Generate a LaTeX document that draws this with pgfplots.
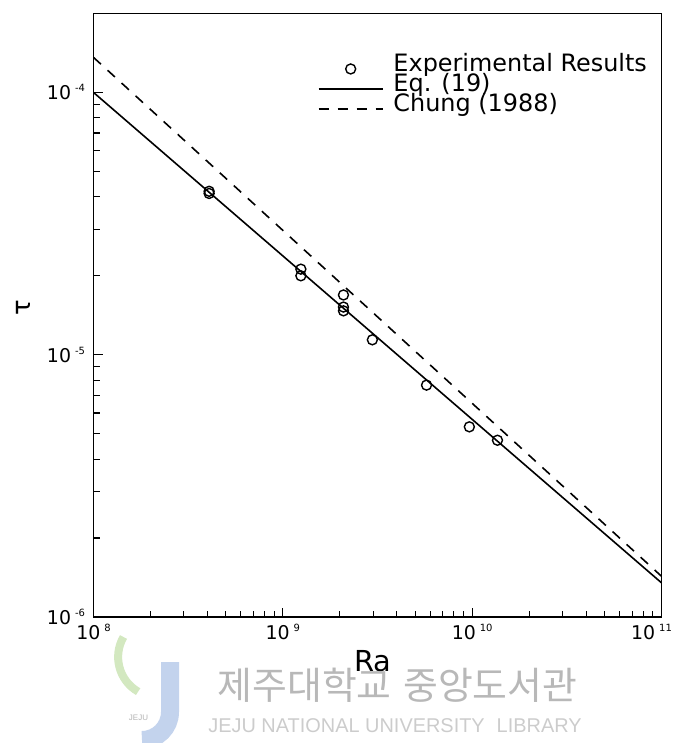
\documentclass[border=0pt]{standalone}
\usepackage{fontspec}
\setmainfont{DejaVu Sans}
\newfontfamily\cjk{Noto Sans CJK KR}
\newfontfamily\libsans{Liberation Sans}
\usepackage{pgfplots}
\pgfplotsset{compat=1.18}
\newcommand{\pw}[1]{10\hspace{4bp}\raisebox{8bp}{\fontsize{10}{10}\selectfont #1}}
\begin{document}
\begin{tikzpicture}
\useasboundingbox (-93.5bp,-126bp) rectangle (583.5bp,617bp);
\begin{axis}[
  at={(0,0)}, anchor=south west, scale only axis,
  width=568bp, height=603.5bp,
  xmode=log, ymode=log,
  xmin=1e8, xmax=1e11, ymin=1e-6, ymax=2e-4,
  axis line style={line width=1.6bp},
  tick style={line width=1.2bp, black},
  tick align=inside, xtick pos=bottom, ytick pos=left,
  major tick length=9bp, minor tick length=6bp,
  xtick={1e8,1e9,1e10,1e11},
  xticklabels={\pw{8},\pw{9},\pw{10},\hspace*{-20bp}\pw{11}},
  minor xtick={2e8,3e8,4e8,5e8,6e8,7e8,8e8,9e8,2e9,3e9,4e9,5e9,6e9,7e9,8e9,9e9,2e10,3e10,4e10,5e10,6e10,7e10,8e10,9e10},
  ytick={1e-6,1e-5,1e-4},
  yticklabels={\pw{-6},\pw{-5},\pw{-4}},
  minor ytick={2e-6,3e-6,4e-6,5e-6,6e-6,7e-6,8e-6,9e-6,2e-5,3e-5,4e-5,5e-5,6e-5,7e-5,8e-5,9e-5},
  tick label style={font=\fontsize{19}{19}\selectfont},
  xticklabel style={yshift=-4bp},
  yticklabel style={xshift=-5bp},
  xlabel={Ra},
  xlabel style={at={(axis description cs:0.492,-0.073)}, anchor=center, font=\fontsize{29}{29}\selectfont},
  ylabel={τ},
  ylabel style={at={(axis description cs:-0.124,0.512)}, anchor=center, font=\fontsize{26}{26}\selectfont},
  legend image code/.code={\draw[mark repeat=2,mark phase=2,#1] plot coordinates {(0bp,-2bp)(32bp,-2bp)(64bp,-2bp)};},
  legend style={draw=none, fill=none, inner sep=0pt, outer sep=0pt,
    at={(axis description cs:0.395,0.928)}, anchor=north west,
    font=\fontsize{24}{24}\selectfont, row sep=0pt,
    nodes={inner sep=0pt, text height=15bp, text depth=5bp}},
  legend cell align=left,
  /tikz/every odd column/.append style={column sep=10bp},
]
\addplot[only marks, mark=o, mark size=5bp, line width=1.4bp, black] coordinates {
  (4.08e8,4.20e-5) (4.08e8,4.12e-5)
  (1.245e9,2.12e-5) (1.245e9,2.00e-5)
  (2.09e9,1.69e-5) (2.09e9,1.52e-5) (2.09e9,1.47e-5)
  (2.97e9,1.14e-5)
  (5.74e9,7.66e-6)
  (9.66e9,5.31e-6)
  (1.36e10,4.72e-6)
};
\addlegendentry{Experimental Results}
\addplot[black, line width=1.6bp] coordinates {(1e8,1.0e-4) (1e11,1.35e-6)};
\addlegendentry{Eq. (19)}
\addplot[black, line width=1.6bp, dash pattern=on 10bp off 9bp] coordinates {(1e8,1.36e-4) (1e11,1.43e-6)};
\addlegendentry{Chung (1988)}
\end{axis}
% watermark
\draw[line width=18bp, color={rgb,255:red,180;green,200;blue,232}, opacity=0.8] (76.5bp,-45bp) -- (76.5bp,-95bp) arc[start angle=0, end angle=-90, radius=28bp];
\draw[line width=8bp, color={rgb,255:red,200;green,226;blue,176}, opacity=0.8] (30bp,-20bp) arc[start angle=150, end angle=240, radius=40bp];
\node[font=\libsans\fontsize{8}{8}\selectfont, text=black!30] at (45bp,-101bp) {JEJU};
\node[font=\cjk\fontsize{38}{38}\selectfont, text=black!28] at (304bp,-68bp) {제주대학교\hspace{0.3em}중앙도서관};
\node[font=\libsans\fontsize{20}{20}\selectfont, text=black!20] at (301.5bp,-109bp) {JEJU NATIONAL UNIVERSITY\hspace{0.6em}LIBRARY};
\end{tikzpicture}
\end{document}
